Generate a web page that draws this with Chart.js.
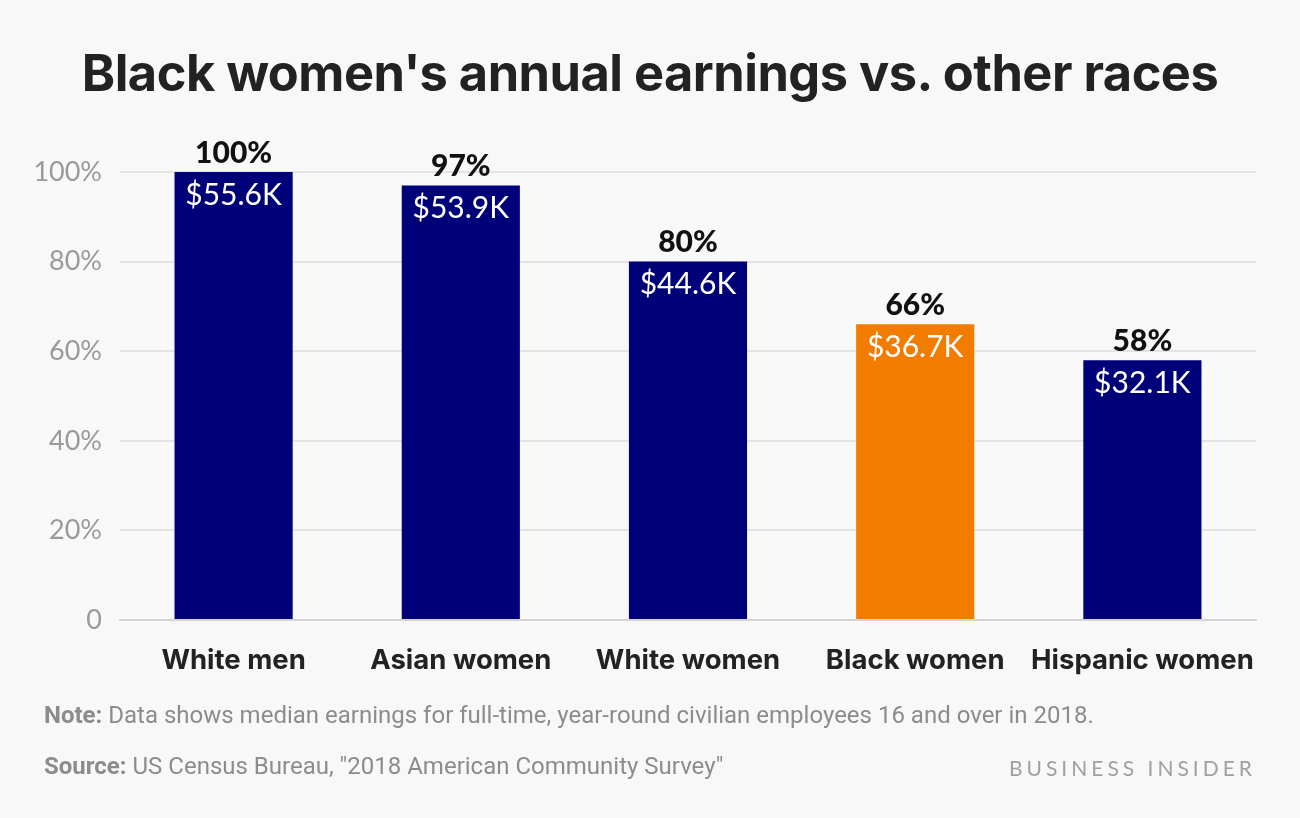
<!DOCTYPE html>
<html>
<head>
<meta charset="utf-8">
<script src="https://cdn.jsdelivr.net/npm/chart.js@4.4.1/dist/chart.umd.min.js"></script>
<style>
  html, body { margin: 0; padding: 0; background: #f8f8f8; }
  #wrap { position: relative; width: 1300px; height: 818px; overflow: hidden; }
  #chart { position: absolute; left: 0; top: 0; }
  .title { position: absolute; left: 0; width: 1300px; top: 42px; text-align: center;
    font-family: Inter, "Noto Sans", sans-serif; font-weight: 700; font-size: 50.5px; color: #222; letter-spacing: -0.5px; }
  .foot { position: absolute; left: 44px; font-family: Roboto, sans-serif;
    font-size: 24px; color: #8c8c8c; }
  .foot b { font-weight: 700; }
  .brand { position: absolute; right: 44px; top: 755px; font-family: Lato, "Open Sans", sans-serif;
    font-size: 21px; letter-spacing: 4px; color: #a0a0a0; font-weight: 400; }
</style>
</head>
<body>
<div id="wrap">
  <canvas id="chart" width="1300" height="818"></canvas>
  <div class="title">Black women's annual earnings vs. other races</div>
  <div class="foot" style="top:701px"><b>Note:</b> Data shows median earnings for full-time, year-round civilian employees 16 and over in 2018.</div>
  <div class="foot" style="top:752px"><b>Source:</b> US Census Bureau, "2018 American Community Survey"</div>
  <div class="brand">BUSINESS INSIDER</div>
</div>
<script>
// data
const categories = ['White men', 'Asian women', 'White women', 'Black women', 'Hispanic women'];
const shareOfWhiteMen = [100, 97, 80, 66, 58];
const earningsLabels = ['$55.6K', '$53.9K', '$44.6K', '$36.7K', '$32.1K'];
const yTicks = [0, 20, 40, 60, 80, 100];

const NAVY = '#000078';
const ORANGE = '#f27c00';
const barColors = categories.map(c => c === 'Black women' ? ORANGE : NAVY);

// draws the percent above and the dollar amount inside each bar
const barLabels = {
  id: 'barLabels',
  afterDatasetsDraw(chart) {
    const ctx = chart.ctx;
    const meta = chart.getDatasetMeta(0);
    ctx.save();
    ctx.textAlign = 'center';
    meta.data.forEach((bar, i) => {
      ctx.textBaseline = 'bottom';
      ctx.fillStyle = '#111';
      ctx.font = '900 30px Lato, "Open Sans", sans-serif';
      ctx.fillText(shareOfWhiteMen[i] + '%', bar.x, bar.y - 4);
      ctx.textBaseline = 'middle';
      ctx.fillStyle = '#fff';
      ctx.font = '400 30px Lato, "Open Sans", sans-serif';
      ctx.fillText(earningsLabels[i], bar.x, bar.y + 23);
    });
    ctx.restore();
  }
};

new Chart(document.getElementById('chart'), {
  type: 'bar',
  data: {
    labels: categories,
    datasets: [{
      data: shareOfWhiteMen,
      backgroundColor: barColors,
      barPercentage: 0.52,
      categoryPercentage: 1
    }]
  },
  options: {
    responsive: false,
    animation: false,
    layout: { padding: { left: 0, right: 44, top: 172, bottom: 0 } },
    plugins: { legend: { display: false }, tooltip: { enabled: false } },
    scales: {
      x: {
        grid: { display: false },
        border: { color: '#d4d4d4', width: 2 },
        ticks: {
          color: '#222',
          padding: 16,
          maxRotation: 0,
          minRotation: 0,
          autoSkip: false,
          font: { family: 'Inter, "Noto Sans", sans-serif', size: 27.5, weight: '700' }
        },
        afterFit(scale) { scale.height = 198; }
      },
      y: {
        min: 0,
        max: 100,
        afterBuildTicks(scale) { scale.ticks = yTicks.map(v => ({ value: v })); },
        grid: { color: '#e4e4e4', lineWidth: 2, drawTicks: false },
        border: { display: false },
        ticks: {
          color: '#9a9a9a',
          padding: 18,
          font: { family: 'Lato, "Open Sans", sans-serif', size: 27 },
          callback: v => v === 0 ? '0' : v + '%'
        },
        afterFit(scale) { scale.width = 120; }
      }
    }
  },
  plugins: [barLabels]
});
</script>
</body>
</html>
